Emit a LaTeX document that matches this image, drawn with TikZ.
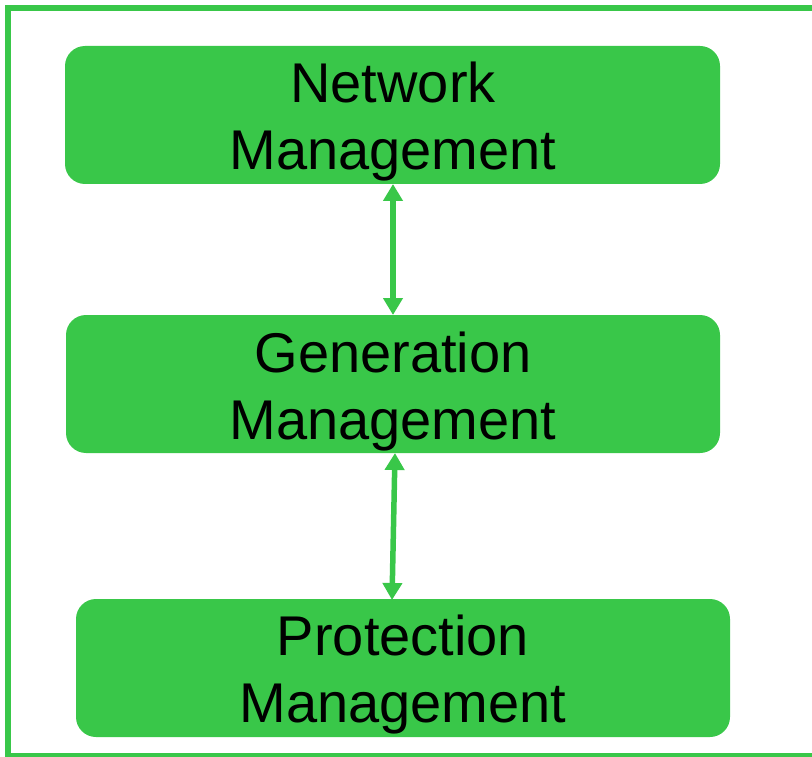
\documentclass[tikz,border=0pt]{standalone}
\usepackage{fontspec}
\setmainfont{Liberation Sans}
\usetikzlibrary{arrows.meta}
\definecolor{mgreen}{RGB}{57,199,73}
\begin{document}
\begin{tikzpicture}[x=1pt,y=-1pt,
  mgbox/.style={fill=mgreen, rounded corners=20pt, draw=none},
  mglabel/.style={align=center, font=\fontsize{56}{67}\selectfont, inner sep=0pt},
  link/.style={draw=mgreen, line width=5.5pt, {Triangle[width=19pt,length=17pt]}-{Triangle[width=19pt,length=17pt]}}]
  \useasboundingbox (0,0) rectangle (812,757);
  % frame
  \fill[mgreen] (5,5) rectangle (812,11);
  \fill[mgreen] (5,5) rectangle (11,757);
  \fill[mgreen] (5,753) rectangle (812,757);
  % boxes
  \fill[mgbox] (65,46) rectangle (720,184);
  \fill[mgbox] (66,315) rectangle (720,453);
  \fill[mgbox] (76,599) rectangle (730,737);
  \node[mglabel] (net) at (393,122) {Network\\Management};
  \node[mglabel] (gen) at (393,392) {Generation\\Management};
  \node[mglabel] (pro) at (403,675) {Protection\\Management};
  \coordinate (netB) at (393,184);
  \coordinate (genT) at (393,315);
  \coordinate (genB) at (395,453);
  \coordinate (proT) at (392,600);
  \draw[link] (netB) -- (genT);
  \draw[link] (genB) -- (proT);
\end{tikzpicture}
\end{document}
